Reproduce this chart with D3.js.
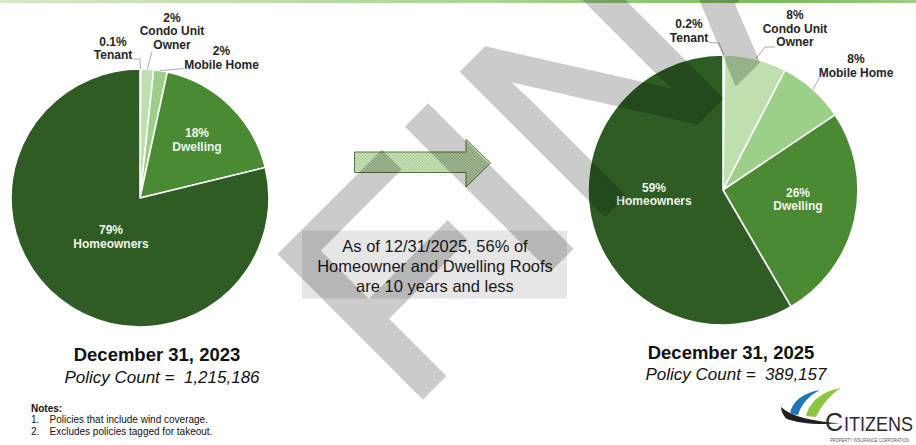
<!DOCTYPE html>
<html><head><meta charset="utf-8">
<script src="https://cdn.jsdelivr.net/npm/d3@7"></script>
<style>body{margin:0;background:#fff}svg{display:block}</style>
</head><body>
<svg id="chart" width="916" height="445"></svg>
<script>
// ---------------- data ----------------
const categories = ["Tenant", "Condo Unit Owner", "Mobile Home", "Dwelling", "Homeowners"];
const nameLines = [["Tenant"], ["Condo Unit", "Owner"], ["Mobile Home"], ["Dwelling"], ["Homeowners"]];
const values2023 = [0.1, 1.6, 1.7, 17.8, 78.8];
const values2025 = [0.2, 7.4, 8.0, 26.0, 58.4];
const pctLabels2023 = ["0.1%", "2%", "2%", "18%", "79%"];
const pctLabels2025 = ["0.2%", "8%", "8%", "26%", "59%"];
const chartTitles = ["December 31, 2023", "December 31, 2025"];
const policyCounts = ["1,215,186", "389,157"];
const calloutLines = ["As of 12/31/2025, 56% of", "Homeowner and Dwelling Roofs", "are 10 years and less"];
const notesTitle = "Notes:";
const notes = ["Policies that include wind coverage.", "Excludes policies tagged for takeout."];
const watermark = "FINAL";

// ---------------- layout / style ----------------
const FONT = "'Liberation Sans', Arial, Helvetica, sans-serif";
const colors = ["#d5ebca", "#bde0ae", "#9ccf87", "#4a8a33", "#2e5c24"];
const color = d3.scaleOrdinal().domain(categories).range(colors);

const pies = [
  { values: values2023, pcts: pctLabels2023, title: chartTitles[0], count: policyCounts[0],
    cx: 140, cy: 198, r: 129, titleX: 157, titleY: 361, countY: 383,
    inside: { 3: [57, -58.7], 4: [-29, 38] },
    outside: {
      0: { x: 113, y: 45.7, lead: [[133.5, 59], [140, 59]] },
      1: { x: 172, y: 21.7, lead: [[152, 51.5]] },
      2: { x: 221.5, y: 55, lead: [[183.5, 68.5]] }
    } },
  { values: values2025, pcts: pctLabels2025, title: chartTitles[1], count: policyCounts[1],
    cx: 723, cy: 190, r: 135, titleX: 731, titleY: 359, countY: 380,
    inside: { 3: [75, 8.7], 4: [-69, 3.5] },
    outside: {
      0: { x: 689, y: 28.3, lead: [[709, 42.5], [719, 43]] },
      1: { x: 795, y: 19, lead: [[775, 47], [765, 47]] },
      2: { x: 856, y: 63.3, lead: [[819.5, 77.5]] }
    } }
];

const svg = d3.select("#chart");
const defs = svg.append("defs");

// top gradient bar
const grad = defs.append("linearGradient").attr("id", "topbar");
grad.append("stop").attr("offset", "0%").attr("stop-color", "#d6e8c8");
grad.append("stop").attr("offset", "55%").attr("stop-color", "#a9d48c");
grad.append("stop").attr("offset", "85%").attr("stop-color", "#78bd4e");
grad.append("stop").attr("offset", "100%").attr("stop-color", "#9fcf80");
svg.append("rect").attr("x", 0).attr("y", 0).attr("width", 916).attr("height", 3).attr("fill", "url(#topbar)");

// arrow pattern
const pat = defs.append("pattern").attr("id", "dots").attr("patternUnits", "userSpaceOnUse")
  .attr("width", 3).attr("height", 3);
pat.append("rect").attr("width", 3).attr("height", 3).attr("fill", "#cfe6c1");
pat.append("rect").attr("x", 0).attr("y", 0).attr("width", 1.5).attr("height", 1.5).attr("fill", "#a7cb93");
pat.append("rect").attr("x", 1.5).attr("y", 1.5).attr("width", 1.5).attr("height", 1.5).attr("fill", "#a7cb93");

// ---------------- pies ----------------
const pieGen = d3.pie().sort(null).value(d => d);

pies.forEach(p => {
  const arcs = pieGen(p.values);
  const arc = d3.arc().innerRadius(0).outerRadius(p.r);
  const edge = d3.arc().innerRadius(p.r).outerRadius(p.r);
  const g = svg.append("g").attr("transform", `translate(${p.cx},${p.cy})`);
  g.selectAll("path.slice").data(arcs).join("path")
    .attr("class", "slice")
    .attr("d", arc)
    .attr("fill", (d, i) => color(categories[i]))
    .attr("stroke", "#ffffff").attr("stroke-width", 1.6).attr("stroke-linejoin", "round");

  // inside labels
  arcs.forEach((d, i) => {
    const off = p.inside[i];
    if (!off) return;
    const t = svg.append("text").attr("text-anchor", "middle")
      .attr("font-family", FONT).attr("font-weight", "bold").attr("font-size", 12)
      .attr("fill", "#eef3ea");
    t.append("tspan").attr("x", p.cx + off[0]).attr("y", p.cy + off[1] - 2).text(p.pcts[i]);
    t.append("tspan").attr("x", p.cx + off[0]).attr("y", p.cy + off[1] + 11.5).text(nameLines[i][0]);
  });

  // outside labels with leader lines
  arcs.forEach((d, i) => {
    const o = p.outside[i];
    if (!o) return;
    const c = edge.centroid(d);
    const pts = o.lead.concat([[p.cx + c[0], p.cy + c[1]]]);
    svg.append("path").attr("d", d3.line()(pts)).attr("fill", "none")
      .attr("stroke", "#a9a9a9").attr("stroke-width", 1);
    const lines = [p.pcts[i]].concat(nameLines[i]);
    const t = svg.append("text").attr("text-anchor", "middle")
      .attr("font-family", FONT).attr("font-weight", "bold").attr("font-size", 12)
      .attr("fill", "#262626");
    lines.forEach((ln, k) => t.append("tspan").attr("x", o.x).attr("y", o.y + k * 13.7).text(ln));
  });

  // titles
  svg.append("text").attr("x", p.titleX).attr("y", p.titleY).attr("text-anchor", "middle")
    .attr("font-family", FONT).attr("font-weight", "bold").attr("font-size", 18.5)
    .attr("fill", "#111").text(p.title);
  svg.append("text").attr("x", p.titleX + 5).attr("y", p.countY).attr("text-anchor", "middle")
    .attr("font-family", FONT).attr("font-style", "italic").attr("font-size", 17)
    .attr("fill", "#111").style("white-space", "pre").text("Policy Count =  " + p.count);
});

// ---------------- arrow ----------------
svg.append("path")
  .attr("d", "M354.5,152 L466,152 L466,139.5 L490.5,163 L466,187 L466,172.5 L354.5,172.5 Z")
  .attr("fill", "url(#dots)").attr("stroke", "#56753f").attr("stroke-width", 1);

// ---------------- callout box ----------------
svg.append("rect").attr("x", 302).attr("y", 230.5).attr("width", 265).attr("height", 68)
  .attr("fill", "#e6e6e6");
const ct = svg.append("text").attr("text-anchor", "middle").attr("font-family", FONT)
  .attr("font-size", 16.5).attr("fill", "#1a1a1a");
calloutLines.forEach((ln, k) => ct.append("tspan").attr("x", 435).attr("y", 252 + k * 19.8).text(ln));

// ---------------- notes ----------------
svg.append("text").attr("x", 31).attr("y", 411.5).attr("font-family", FONT).attr("font-weight", "bold")
  .attr("font-size", 10).attr("fill", "#111").text(notesTitle);
notes.forEach((n, k) => {
  svg.append("text").attr("x", 31).attr("y", 423 + k * 12).attr("font-family", FONT)
    .attr("font-size", 10).attr("fill", "#111").text((k + 1) + ".");
  svg.append("text").attr("x", 49.5).attr("y", 423 + k * 12).attr("font-family", FONT)
    .attr("font-size", 10).attr("fill", "#111").text(n);
});

// ---------------- logo ----------------
const logo = svg.append("g");
logo.append("path").attr("d", "M781,407 C792,417 812,421 840,423.5 C815,425 796,423 786,418.5 C783,415 781,411 781,407 Z").attr("fill", "#231f20");
logo.append("path").attr("d", "M790,414 C792,401 803,393 820,390 C808,396 801,405 798,415 Z").attr("fill", "#1d76bb");
logo.append("path").attr("d", "M806,416 C810,401 823,391 841,388 C829,396 821,406 816,417 Z").attr("fill", "#8cc63f");
logo.append("text").attr("x", 825).attr("y", 430.5).attr("font-family", FONT).attr("font-size", 25)
  .attr("fill", "#2b2b2b").text("C");
logo.append("text").attr("transform", "translate(844,430.5) scale(1,1.14)")
  .attr("font-family", FONT).attr("font-size", 18)
  .attr("fill", "#2b2b2b").text("ITIZENS");
logo.append("text").attr("transform", "translate(830,441.5) scale(1,1.15)")
  .attr("font-family", FONT).attr("font-size", 4.1)
  .attr("fill", "#555").text("PROPERTY INSURANCE CORPORATION");

// ---------------- watermark ----------------
svg.append("g").attr("opacity", 0.2)
  .append("text").attr("transform", "translate(406,412) rotate(-45)")
  .attr("font-family", FONT).attr("font-size", 290).attr("fill", "#000")
  .attr("stroke", "#000").attr("stroke-width", 6).attr("stroke-linejoin", "miter")
  .text(watermark);
</script>
</body></html>
